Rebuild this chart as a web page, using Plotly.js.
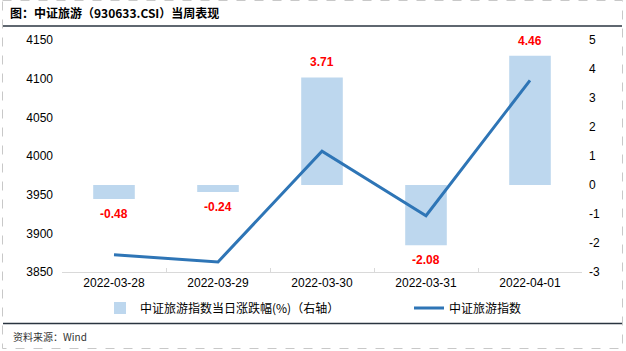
<!DOCTYPE html>
<html>
<head>
<meta charset="utf-8">
<script src="https://cdn.plot.ly/plotly-3.0.1.min.js"></script>
<style>html,body{margin:0;padding:0;background:#fff;}#chart{width:626px;height:351px;}</style>
</head>
<body>
<div id="chart"></div>
<script>
const categories = ['2022-03-28', '2022-03-29', '2022-03-30', '2022-03-31', '2022-04-01'];
const pctChange = [-0.48, -0.24, 3.71, -2.08, 4.46];
const indexValues = [3872.3, 3863.0, 4006.3, 3922.8, 4097.8];
const leftTicks = [3850, 3900, 3950, 4000, 4050, 4100, 4150];
const rightTicks = [-3, -2, -1, 0, 1, 2, 3, 4, 5];
const barName = '中证旅游指数当日涨跌幅(%)（右轴）';
const lineName = '中证旅游指数';
const titleText = '<b>图：中证旅游（930633.CSI）当周表现</b>';
const sourceText = '资料来源：Wind';

const cjk = 'Noto Sans CJK SC, Liberation Sans, sans-serif';
const latin = 'Liberation Sans, Arial, sans-serif';

const W = 626, H = 351, L = 62, R = 44, T = 40, B = 79;
const pw = W - L - R, ph = H - T - B;
const px = x => (x - L) / pw;
const py = y => (H - B - y) / ph;

const traces = [
  {
    type: 'bar', x: categories, y: pctChange, yaxis: 'y', name: barName, legend: 'legend',
    marker: {color: '#bdd7ee', line: {width: 0}}, width: 0.4,
    hoverinfo: 'skip'
  },
  {
    type: 'scatter', mode: 'lines', x: categories, y: indexValues, yaxis: 'y2', name: lineName, legend: 'legend2',
    line: {color: '#2e75b6', width: 3}, hoverinfo: 'skip'
  }
];

const annotations = pctChange.map((v, i) => ({
  x: categories[i], y: v, xref: 'x', yref: 'y',
  text: '<b>' + v.toFixed(2) + '</b>', showarrow: false,
  yshift: v >= 0 ? 15 : -15,
  font: {family: latin, size: 12, color: '#ff0000'}
}));
annotations.push({
  xref: 'paper', yref: 'paper', x: px(11), y: py(336), xanchor: 'left', yanchor: 'middle',
  text: sourceText, showarrow: false, font: {family: cjk, size: 10, color: '#333333'}
});

const legendBase = {
  orientation: 'h', xref: 'paper', yref: 'paper', xanchor: 'left', yanchor: 'middle',
  y: py(308), font: {family: cjk, size: 12, color: '#000000'},
  bgcolor: 'rgba(0,0,0,0)', borderwidth: 0
};

const layout = {
  width: W, height: H,
  margin: {l: L, r: R, t: T, b: B, pad: 0},
  paper_bgcolor: '#ffffff', plot_bgcolor: '#ffffff',
  showlegend: true,
  title: {
    text: titleText, xref: 'container', yref: 'container',
    x: 10 / W, xanchor: 'left', y: 1 - 14 / H, yanchor: 'middle',
    font: {family: cjk, size: 12, color: '#000000'}
  },
  xaxis: {
    type: 'category', showgrid: false, zeroline: false,
    showline: true, linecolor: '#d9d9d9', linewidth: 1,
    ticks: 'inside', tickson: 'boundaries', ticklen: 4, tickcolor: '#d9d9d9',
    tickfont: {family: latin, size: 12, color: '#000000'},
    fixedrange: true
  },
  yaxis: {
    side: 'right', range: [-3, 5], tickvals: rightTicks, ticktext: rightTicks.map(String),
    showgrid: false, zeroline: false, showline: false, ticks: '',
    ticklabelstandoff: 6,
    tickfont: {family: latin, size: 12, color: '#000000'}, fixedrange: true
  },
  yaxis2: {
    side: 'left', overlaying: 'y', range: [3850, 4150], tickvals: leftTicks, ticktext: leftTicks.map(String),
    showgrid: false, zeroline: false, showline: false, ticks: '',
    ticklabelstandoff: 8,
    tickfont: {family: latin, size: 12, color: '#000000'}, fixedrange: true
  },
  legend: Object.assign({}, legendBase, {x: px(100)}),
  legend2: Object.assign({}, legendBase, {x: px(409)}),
  shapes: [
    {type: 'line', xref: 'paper', yref: 'paper', x0: px(3), x1: px(622), y0: py(26), y1: py(26),
     line: {color: '#2a3440', width: 1.5}},
    {type: 'line', xref: 'paper', yref: 'paper', x0: px(3), x1: px(622), y0: py(323.5), y1: py(323.5),
     line: {color: '#2a3440', width: 1.5}},
    {type: 'rect', xref: 'paper', yref: 'paper', x0: px(2.5), x1: px(622.5), y0: py(0.5), y1: py(348.5),
     line: {color: '#c8c8c8', width: 1, dash: 'dash'}, fillcolor: 'rgba(0,0,0,0)'}
  ],
  annotations: annotations
};

Plotly.newPlot('chart', traces, layout, {displayModeBar: false, staticPlot: true});
</script>
</body>
</html>
